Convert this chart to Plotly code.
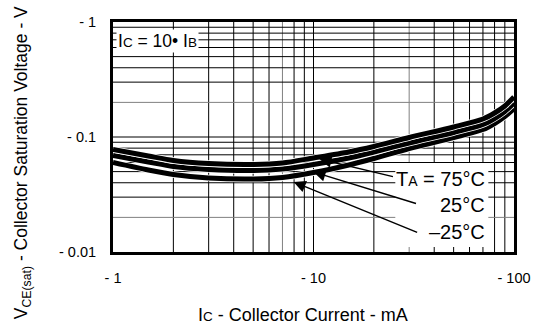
import plotly.graph_objects as go

# Collector current (magnitude, mA)
ic_ma = [1, 1.5, 2, 3, 5, 7, 10, 15, 20, 30, 50, 70, 80, 90, 100]
# VCE(sat) magnitude (V) for each ambient temperature
vce_75 = [0.0778, 0.0684, 0.0625, 0.0588, 0.0577, 0.0594, 0.0657, 0.0741,
          0.0827, 0.0990, 0.1222, 0.1434, 0.1617, 0.1861, 0.2228]
vce_25 = [0.0690, 0.0606, 0.0554, 0.0522, 0.0511, 0.0527, 0.0577, 0.0657,
          0.0741, 0.0887, 0.1094, 0.1284, 0.1448, 0.1666, 0.1975]
vce_m25 = [0.0600, 0.0516, 0.0472, 0.0440, 0.0431, 0.0445, 0.0491, 0.0571,
           0.0650, 0.0794, 0.0990, 0.1162, 0.1311, 0.1508, 0.1769]

x_tickvals = [1, 10, 100]
x_ticktext = ["- 1", "- 10", "- 100"]
y_tickvals = [0.01, 0.1, 1]
y_ticktext = ["- 0.01", "- 0.1", "- 1"]

grid_mults = [2, 3, 4, 5, 6, 7, 8, 9]
x_decades = [1, 10]
y_decades = [0.01, 0.1]
gray_x = [7, 30]
gray_y = [0.2, 0.02]

FONT = "Liberation Sans, Arial, sans-serif"

fig = go.Figure()

for vals in [vce_m25, vce_25, vce_75]:
    fig.add_trace(go.Scatter(x=ic_ma, y=vals, mode="lines",
                             line=dict(color="white", width=6.5, shape="spline", smoothing=0.8),
                             hoverinfo="skip", showlegend=False))
    fig.add_trace(go.Scatter(x=ic_ma, y=vals, mode="lines",
                             line=dict(color="black", width=5, shape="spline", smoothing=0.8),
                             showlegend=False))

shapes = []
for d in x_decades:
    for m in grid_mults:
        v = d * m
        col = "#808080" if v in gray_x else "black"
        shapes.append(dict(type="line", xref="x", yref="paper", x0=v, x1=v, y0=0, y1=1,
                           line=dict(color=col, width=1), layer="below"))
for d in y_decades:
    for m in grid_mults:
        v = round(d * m, 4)
        col = "#808080" if v in gray_y else "black"
        shapes.append(dict(type="line", xref="paper", yref="y", x0=0, x1=1, y0=v, y1=v,
                           line=dict(color=col, width=1), layer="below"))
shapes.append(dict(type="line", xref="x", yref="paper", x0=10, x1=10, y0=0, y1=1,
                   line=dict(color="black", width=1), layer="below"))
shapes.append(dict(type="line", xref="paper", yref="y", x0=0, x1=1, y0=0.1, y1=0.1,
                   line=dict(color="black", width=1), layer="below"))
# white backing behind the temperature labels
shapes.append(dict(type="rect", xref="paper", yref="paper", x0=0.704, x1=0.936, y0=0.022, y1=0.387,
                   fillcolor="white", line=dict(width=0), layer="below"))

small = "<span style='font-size:13.5px'>{}</span>"
annotations = [
    dict(text="I" + small.format("C") + " = 10• I" + small.format("B"),
         xref="paper", yref="paper", x=0.0074, y=0.917, xanchor="left", yanchor="middle",
         showarrow=False, bgcolor="white", borderpad=1, font=dict(size=17.5, color="black", family=FONT)),
    dict(text="T" + "<span style='font-size:14px'>A</span>" + " = 75°C",
         xref="paper", yref="paper", x=0.9335, y=0.317, xanchor="right", yanchor="middle",
         showarrow=False, font=dict(size=20, color="black", family=FONT)),
    dict(text="25°C", xref="paper", yref="paper", x=0.9335, y=0.2065, xanchor="right", yanchor="middle",
         showarrow=False, font=dict(size=20, color="black", family=FONT)),
    dict(text="–25°C", xref="paper", yref="paper", x=0.9335, y=0.0848, xanchor="right", yanchor="middle",
         showarrow=False, font=dict(size=20, color="black", family=FONT)),
    # arrows
    dict(text="", x=1.0296, y=-1.191, xref="x", yref="y", ax=75, ay=18, showarrow=True,
         arrowhead=2, arrowsize=1.6, arrowwidth=1.5, arrowcolor="black"),
    dict(text="", x=1.0, y=-1.304, xref="x", yref="y", ax=104, ay=32, showarrow=True,
         arrowhead=2, arrowsize=1.6, arrowwidth=1.5, arrowcolor="black"),
    dict(text="", x=0.901, y=-1.391, xref="x", yref="y", ax=125, ay=51, showarrow=True,
         arrowhead=2, arrowsize=1.6, arrowwidth=1.5, arrowcolor="black"),
    # axis titles
    dict(text="I" + small.format("C") + " - Collector Current - mA",
         xref="paper", yref="paper", x=0.475, y=-0.274, xanchor="center", yanchor="middle",
         showarrow=False, font=dict(size=18, color="black", family=FONT)),
    dict(text="V<sub>CE(sat)</sub> - Collector Saturation Voltage - V",
         xref="paper", yref="paper", x=-0.224, y=0.387, xanchor="center", yanchor="middle",
         textangle=-90, showarrow=False, font=dict(size=17.5, color="black", family=FONT)),
]

fig.update_layout(
    width=543, height=329,
    margin=dict(l=113, r=24, t=22, b=77),
    paper_bgcolor="white", plot_bgcolor="white",
    font=dict(family=FONT, color="black"),
    shapes=shapes, annotations=annotations,
    showlegend=False,
)
fig.update_xaxes(type="log", range=[0, 2], tickvals=x_tickvals, ticktext=x_ticktext,
                 showgrid=False, zeroline=False, showline=True, mirror=True,
                 linecolor="black", linewidth=3, ticks="", ticklabelstandoff=11,
                 tickfont=dict(size=14.5, color="black", family=FONT))
fig.update_yaxes(type="log", range=[-2, 0], tickvals=y_tickvals, ticktext=y_ticktext,
                 showgrid=False, zeroline=False, showline=True, mirror=True,
                 linecolor="black", linewidth=3, ticks="", ticklabelstandoff=11,
                 tickfont=dict(size=14.5, color="black", family=FONT))

fig.write_html("out.html", config={"displayModeBar": False},
               post_script="document.body.style.margin='0px';")
